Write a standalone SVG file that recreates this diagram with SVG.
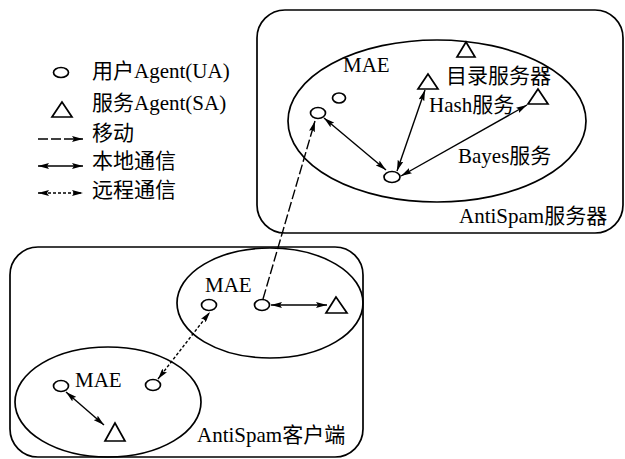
<svg xmlns="http://www.w3.org/2000/svg" width="625" height="459" viewBox="0 0 625 459">
<style>
.t{font-family:"Liberation Serif","Noto Sans CJK SC",serif;font-size:21px;fill:#000}
.s{fill:none;stroke:#000;stroke-width:1.7}
.a{fill:#fff;stroke:#000;stroke-width:1.7}
.c{fill:none;stroke:#000;stroke-width:1.4}
.dash{stroke-dasharray:10,3}
.dot{stroke-dasharray:3,2}
</style>
<defs>
<marker id="ah" markerUnits="userSpaceOnUse" markerWidth="11" markerHeight="6" refX="11" refY="3" orient="auto-start-reverse">
<path d="M0,0 L11,3 L0,6 L2,3 z" fill="#000"/>
</marker>
</defs>
<rect width="625" height="459" fill="#fff"/>
<g id="legend">
<ellipse class="a" cx="61" cy="72.5" rx="7.5" ry="5"/>
<text class="t" x="92" y="78">用户Agent(UA)</text>
<polygon class="a" points="62,102 52,117 72,117"/>
<text class="t" x="92" y="110">服务Agent(SA)</text>
<line class="c dash" x1="38" y1="139" x2="83" y2="139" marker-end="url(#ah)"/>
<text class="t" x="92" y="140">移动</text>
<line class="c" x1="38" y1="166" x2="83" y2="166" marker-start="url(#ah)" marker-end="url(#ah)"/>
<text class="t" x="92" y="168">本地通信</text>
<line class="c dot" x1="38" y1="193" x2="83" y2="193" marker-start="url(#ah)" marker-end="url(#ah)"/>
<text class="t" x="92" y="197">远程通信</text>
</g>
<g id="server">
<rect class="s" x="257" y="10" width="366" height="223" rx="28"/>
<ellipse class="s" cx="437" cy="121" rx="149" ry="81"/>
<text class="t" x="343" y="72">MAE</text>
<text class="t" x="446" y="83">目录服务器</text>
<text class="t" x="429" y="112">Hash服务</text>
<text class="t" x="458" y="163">Bayes服务</text>
<text class="t" x="459" y="223">AntiSpam服务器</text>
</g>
<g id="client">
<rect class="s" x="10" y="247" width="353" height="210" rx="28"/>
<ellipse class="s" cx="270" cy="303" rx="93" ry="55"/>
<ellipse class="s" cx="108" cy="402" rx="93" ry="55"/>
<text class="t" x="205" y="292">MAE</text>
<text class="t" x="75" y="387">MAE</text>
<text class="t" x="197" y="442">AntiSpam客户端</text>
</g>
<g id="agents">
<polygon id="sa-dir" class="a" points="466,42 457,57 475,57"/>
<polygon id="sa-hash" class="a" points="428,74 418,89 438,89"/>
<polygon id="sa-bayes" class="a" points="538,89 528,104 548,104"/>
<ellipse id="ua-s1" class="a" cx="339" cy="98" rx="6.5" ry="5"/>
<ellipse id="ua-s2" class="a" cx="318" cy="113" rx="7.5" ry="5.5"/>
<ellipse id="ua-s3" class="a" cx="392" cy="177" rx="8" ry="5.5"/>
<ellipse id="ua-m1" class="a" cx="209" cy="305" rx="7.5" ry="5.5"/>
<ellipse id="ua-m2" class="a" cx="262" cy="305" rx="7.5" ry="5.5"/>
<polygon id="sa-m" class="a" points="336,297 326,313 347,313"/>
<ellipse id="ua-b1" class="a" cx="61" cy="386" rx="7.5" ry="5.5"/>
<ellipse id="ua-b2" class="a" cx="153" cy="385" rx="7.5" ry="5.5"/>
<polygon id="sa-b" class="a" points="115,423 105,441 125,441"/>
</g>
<g id="connectors">
<line class="c" x1="324" y1="118" x2="386" y2="170" marker-start="url(#ah)" marker-end="url(#ah)"/>
<line class="c" x1="397" y1="171" x2="425" y2="90" marker-start="url(#ah)" marker-end="url(#ah)"/>
<line class="c" x1="401" y1="176" x2="527" y2="105" marker-start="url(#ah)" marker-end="url(#ah)"/>
<line class="c dash" x1="263" y1="299" x2="315" y2="121" marker-end="url(#ah)"/>
<line class="c" x1="271" y1="305" x2="327" y2="305" marker-start="url(#ah)" marker-end="url(#ah)"/>
<line class="c dot" x1="158" y1="379" x2="210" y2="312" marker-start="url(#ah)" marker-end="url(#ah)"/>
<line class="c" x1="66" y1="392" x2="104" y2="425" marker-start="url(#ah)" marker-end="url(#ah)"/>
</g>
</svg>
